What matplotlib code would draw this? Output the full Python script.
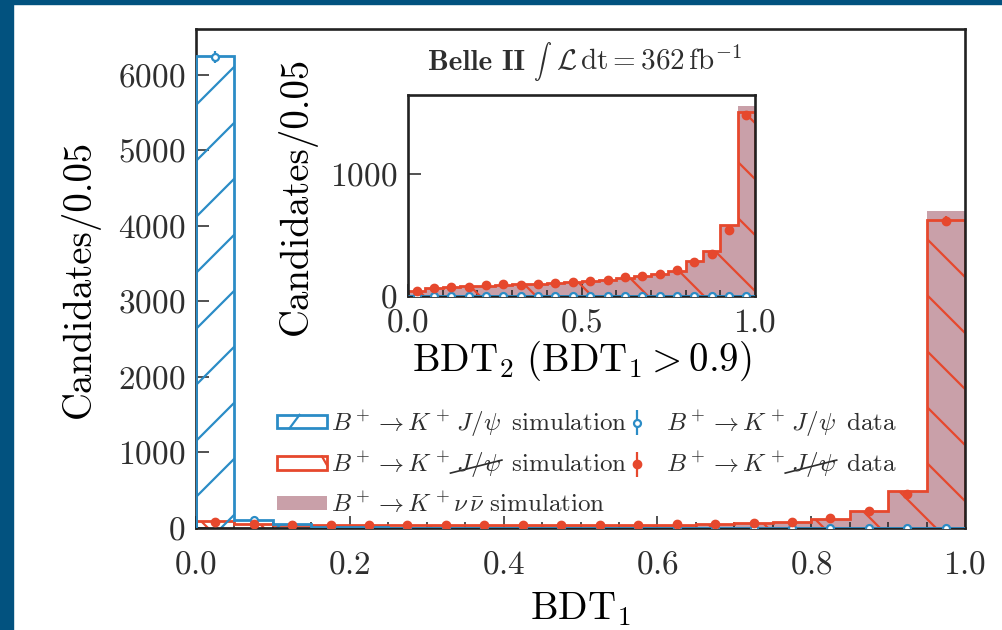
import numpy as np
import matplotlib
matplotlib.use('Agg')
import matplotlib.pyplot as plt
from matplotlib.patches import Patch, Rectangle
from matplotlib.collections import LineCollection
from matplotlib.lines import Line2D
from matplotlib.legend_handler import HandlerPatch
from matplotlib.transforms import IdentityTransform

plt.rcParams['font.family'] = 'serif'
plt.rcParams['font.serif'] = ['cmr10']
plt.rcParams['mathtext.fontset'] = 'cm'
plt.rcParams['axes.unicode_minus'] = False
plt.rcParams['axes.formatter.use_mathtext'] = True
plt.rcParams['text.color'] = '#2e2e2e'

# BDT1 histogram, 20 bins of width 0.05
bin_edges = np.arange(21) * 0.05
jpsi_sim = [6250, 108, 48, 18, 9, 5, 3, 2, 2, 1, 1, 1, 1, 1, 0, 0, 0, 0, 0, 0]
jpsi_data = [6230, 104, 42, 16, 8, 5, 3, 2, 1, 1, 1, 1, 0, 0, 0, 0, 0, 0, 0, 0]
veto_sim = [97, 50, 42, 38, 36, 35, 34, 34, 34, 35, 36, 38, 42, 48, 60, 84, 119, 230, 494, 4070]
veto_data = [85, 55, 45, 40, 38, 36, 35, 35, 35, 35, 36, 40, 58, 50, 64, 84, 126, 225, 450, 4060]
signal_sim = [15, 15, 16, 17, 18, 19, 20, 21, 22, 24, 26, 29, 34, 42, 56, 82, 118, 228, 494, 4200]

# BDT2 histogram for BDT1 > 0.9
jpsi_sim2 = [1] * 20
jpsi_data2 = [0] * 20
veto_sim2 = [40, 62, 72, 78, 84, 90, 95, 98, 104, 112, 120, 130, 148, 162, 178, 208, 287, 369, 579, 1508]
veto_data2 = [41, 68, 74, 77, 87, 96, 93, 96, 104, 115, 123, 131, 158, 161, 178, 210, 279, 347, 541, 1484]
signal_sim2 = [30, 55, 68, 75, 82, 89, 94, 98, 104, 112, 120, 130, 148, 162, 178, 208, 287, 369, 579, 1557]

blue = '#2b8cc6'
red = '#e6482d'
pink = '#c9a0a9'
frame = '#02527f'
ink = '#2e2e2e'

W, H = 1002, 630
fig = plt.figure(figsize=(W / 100, H / 100), dpi=100)
ax = fig.add_axes([196 / W, 1 - 528 / H, 769 / W, 498.7 / H])
axin = fig.add_axes([408 / W, 1 - 296 / H, 347 / W, 201 / H])

centres = 0.5 * (bin_edges[1:] + bin_edges[:-1])


# diagonal hatch lines in pixel space, clipped to a histogram outline
def hatch(axis, patch, color, sign, phase, step=56):
    segs = []
    for c in np.arange(phase - 2 * (W + H), 2 * (W + H), step):
        segs.append([(0, c), (W, c + sign * W)])
    lc = LineCollection(segs, colors=color, linewidths=1.6, transform=IdentityTransform())
    axis.add_collection(lc, autolim=False)
    lc.set_clip_path(patch)


def draw(axis, j_sim, j_dat, v_sim, v_dat, s_sim):
    axis.stairs(s_sim, bin_edges, fill=True, color=pink, lw=0, zorder=1)
    rp = axis.stairs(v_sim, bin_edges, baseline=0, color=red, lw=2, zorder=2)
    hatch(axis, rp, red, -1, 46)
    bp = axis.stairs(j_sim, bin_edges, baseline=0, color=blue, lw=2, zorder=3)
    hatch(axis, bp, blue, 1, 9)
    eb_b = axis.errorbar(centres, j_dat, yerr=np.sqrt(j_dat), fmt='o', color=blue, mfc='white',
                         mec=blue, mew=1.6, ms=5, elinewidth=1.6, zorder=4)
    eb_r = axis.errorbar(centres, v_dat, yerr=np.sqrt(v_dat), fmt='o', color=red, ms=6,
                         elinewidth=1.6, zorder=5)
    return eb_b, eb_r


eb_blue, eb_red = draw(ax, jpsi_sim, jpsi_data, veto_sim, veto_data, signal_sim)
draw(axin, jpsi_sim2, jpsi_data2, veto_sim2, veto_data2, signal_sim2)

for a in (ax, axin):
    a.set_xlim(0, 1)
    for s in a.spines.values():
        s.set_linewidth(1.9)
        s.set_color('#222222')
    a.tick_params(which='both', direction='in', colors='#222222', labelcolor=ink, width=1.1,
                  labelsize=24)
    a.tick_params(which='major', length=9)
    a.tick_params(which='minor', length=4)

ax.set_ylim(0, 6600)
ax.set_xticks(np.arange(6) * 0.2)
ax.set_xticks(np.arange(21) * 0.05, minor=True)
ax.set_yticks(np.arange(7) * 1000)
ax.tick_params(axis='x', pad=16.5)
ax.tick_params(axis='y', pad=8)
ax.set_xlabel(r'$\mathrm{BDT}_1$', fontsize=28)
ax.xaxis.set_label_coords(0.5, -0.125)
ax.set_ylabel('Candidates/0.05', fontsize=28)
ax.yaxis.set_label_coords(-0.125, 0.5)

axin.set_ylim(0, 1650)
axin.set_xticks([0, 0.5, 1.0])
axin.set_xticks(np.arange(11) * 0.1, minor=True)
axin.set_yticks([0, 1000])
axin.tick_params(axis='x', pad=9)
axin.tick_params(axis='y', pad=8)
axin.set_xlabel(r'$\mathrm{BDT}_2\ (\mathrm{BDT}_1 > 0.9)$', fontsize=28)
axin.xaxis.set_label_coords(0.5, -0.215)
axin.set_ylabel('Candidates/0.05', fontsize=28)
axin.yaxis.set_label_coords(-0.262, 0.5)

renderer = fig.canvas.get_renderer()

# experiment label, laid out piece by piece so the integral stays text sized
base = 1 - 70 / H
pieces = [fig.text(0, base, 'Belle II', family='cmb10', fontsize=21, va='baseline'),
          fig.text(0, base + 2 / H, r'$\int$', fontsize=13, va='baseline'),
          fig.text(0, base, r'$\mathcal{L}\,\mathrm{dt} = 362\,\mathrm{fb}^{-1}$',
                   fontsize=21, va='baseline')]
gaps = [8, 4, 0]
widths = [t.get_window_extent(renderer).width for t in pieces]
x = 585 - (sum(widths) + sum(gaps)) / 2
for t, w, g in zip(pieces, widths, gaps):
    t.set_x(x / W)
    x += w + g


# outlined legend box with a single hatch stroke
class BoxHandler(HandlerPatch):
    def __init__(self, stroke):
        super().__init__()
        self.stroke = stroke

    def create_artists(self, legend, orig_handle, xdescent, ydescent, width, height, fontsize, trans):
        arts = super().create_artists(legend, orig_handle, xdescent, ydescent, width, height, fontsize, trans)
        x0, y0 = -xdescent, -ydescent
        (u0, v0), (u1, v1) = self.stroke
        arts.append(Line2D([x0 + u0 * width, x0 + u1 * width], [y0 + v0 * height, y0 + v1 * height],
                           color=orig_handle.get_edgecolor(), lw=1.6, transform=trans))
        return arts


h_blue = Patch(facecolor='white', edgecolor=blue, lw=2)
h_red = Patch(facecolor='white', edgecolor=red, lw=2)
h_pink = Patch(facecolor=pink, edgecolor='none')
prefix = r'$B^+ \to K^+\,'
labels = [prefix + r'J/\psi\,$ simulation',
          prefix + r'J/\psi\,$ simulation',
          r'$B^+ \to K^+ \nu\,\bar{\nu}$ simulation',
          prefix + r'J/\psi\,$ data',
          prefix + r'J/\psi\,$ data']
leg = ax.legend([h_blue, h_red, h_pink, eb_blue, eb_red], labels, ncol=2, frameon=False, fontsize=18,
                loc='upper left', bbox_to_anchor=(81 / 769, 0.24), borderpad=0, borderaxespad=0,
                handlelength=2.0, handleheight=0.45, handletextpad=0.15, labelspacing=0.45,
                columnspacing=-0.6,
                handler_map={h_blue: BoxHandler(((0.25, 0), (0.45, 1))),
                             h_red: BoxHandler(((0.9, 1), (1.0, 0.35)))})

# strike through J/psi in the veto labels
fig.canvas.draw()
probe = fig.text(0, 0, prefix + '$', fontsize=18)
w_pre = probe.get_window_extent(renderer).width
probe.set_text(prefix + r'J/\psi$')
w_jpsi = probe.get_window_extent(renderer).width
probe.remove()
for i in (1, 4):
    bb = leg.get_texts()[i].get_window_extent(renderer)
    yc = 0.5 * (bb.y0 + bb.y1)
    fig.add_artist(Line2D([bb.x0 + w_pre + 1, bb.x0 + w_jpsi + 1], [yc - 8, yc + 5],
                          color=ink, lw=1.2, transform=IdentityTransform()))

fig.patches.append(Rectangle((0, 0), 13 / W, 1, transform=fig.transFigure, color=frame, zorder=10))
fig.patches.append(Rectangle((0, 1 - 3.7 / H), 1, 3.7 / H, transform=fig.transFigure, color=frame, zorder=10))

fig.savefig('out.png', dpi=100)
